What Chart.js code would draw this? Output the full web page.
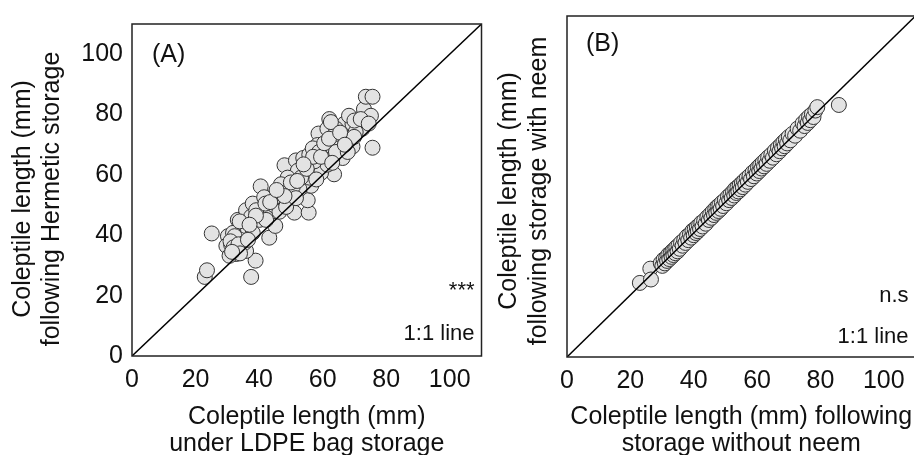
<!DOCTYPE html>
<html><head><meta charset="utf-8">
<script src="https://cdn.jsdelivr.net/npm/chart.js@4.4.1/dist/chart.umd.min.js"></script>
<style>
html,body{margin:0;padding:0;width:914px;height:455px;overflow:hidden;background:#fff;}
#c1{position:absolute;left:0;top:0;}
#c2{position:absolute;left:490px;top:0;}
</style></head><body>
<canvas id="c1" width="490" height="455"></canvas>
<canvas id="c2" width="434" height="455"></canvas>
<script>
// ---- data ----
const leftX = [22.9,23.6,25.1,37.5,38.9,35.9,32.8,30.7,31.8,30.2,34.9,33.3,35.9,40.1,43.2,45.1,40.1,42.2,44.8,40.5,
  45.4,48.5,48.0,51.1,55.6,55.3,53.7,56.4,54.4,51.6,53.9,63.6,58.7,62.1,61.5,61.0,63.1,67.3,66.8,69.4,
  69.4,71.5,73.0,73.6,75.7,75.2,72.5,75.7,68.3,55.8,57.9,60.0,58.4,56.9,50.6,49.5,47.4,38.0,37.5,36.5,
  31.8,29.7,33.9,52.7,52.2,56.3,60.5,64.7,65.2,66.3,63.1,64.2,62.6,70.4,49.0,46.9,44.3,41.6,42.2,46.4,
  48.5,39.1,33.9,38.0,32.3,30.7,33.3,35.4,59.5,61.5,57.4,55.8,53.2,50.6,51.6,58.9,64.2,67.9,69.9,31.2,
  31.0,32.0,33.5,34.0,31.5,36.5,42.0,43.5,47.0,50.0,52.0,55.0,57.0,59.5,60.5,62.0,65.5,67.0,70.0,72.0,
  74.5,54.0,48.0,45.5,39.0,37.0,63.0,58.0];
const leftY = [26.2,28.4,40.6,26.2,31.6,34.8,33.8,35.4,37.5,39.7,40.2,45.1,48.3,49.9,39.2,43.1,45.1,47.8,49.9,56.2,
  54.3,56.1,63.2,47.5,47.5,51.6,57.0,56.4,60.7,64.8,65.6,60.2,73.7,78.5,75.3,68.3,69.4,72.6,76.9,76.9,
  69.4,78.5,81.8,85.9,85.9,79.6,75.3,69.0,79.6,66.7,61.8,64.5,69.9,68.8,59.1,52.6,51.6,50.5,46.2,41.9,
  40.8,36.5,38.6,55.3,61.4,62.4,67.2,72.2,68.8,65.6,65.6,75.3,77.5,74.2,59.1,56.9,52.0,52.6,45.1,47.8,
  49.4,48.3,44.6,40.8,39.7,33.2,35.9,37.5,60.7,63.4,64.5,59.1,59.1,56.1,52.3,67.6,67.6,67.6,72.6,36.9,
  38.0,36.0,37.0,34.0,34.5,38.5,50.5,51.0,54.0,57.5,58.0,62.0,66.0,66.0,70.5,72.0,74.0,70.0,78.0,78.5,
  77.0,63.5,53.0,55.0,46.5,43.5,64.0,58.5];

const rightX = [23.0,26.3,26.5,
  29.6,30.1,30.5,30.9,31.3,31.6,32.0,32.3,32.7,33.0,33.3,33.6,33.9,34.2,34.5,34.9,35.2,35.6,36.0,36.5,
  37.0,37.4,37.9,38.3,38.8,39.2,39.6,40.0,40.3,40.7,41.0,41.3,41.7,42.0,42.4,42.8,43.3,43.8,44.3,44.8,
  45.2,45.6,46.0,46.4,46.8,47.1,47.5,47.8,48.1,48.5,48.9,49.3,49.8,50.3,50.8,51.2,51.6,52.0,52.4,52.8,
  53.1,53.5,53.8,54.1,54.5,54.8,55.2,55.5,55.9,56.3,56.7,57.1,57.6,58.1,58.6,59.0,59.5,59.9,60.3,60.7,
  61.0,61.4,61.8,62.2,62.6,63.0,63.5,64.0,64.5,65.0,65.6,66.1,66.6,67.1,67.5,67.9,68.3,68.7,69.1,69.5,
  70.0,70.5,71.2,72.0,72.8,73.6,74.4,75.0,75.5,76.0,76.4,76.8,77.3,77.8,78.4,79.0,85.8];
const rightY = [23.9,28.5,25.0,
  30.3,29.4,31.4,30.2,32.0,31.0,33.0,31.6,33.5,32.3,34.2,32.9,34.7,33.5,35.4,34.1,36.0,34.9,36.9,35.9,
  37.8,36.8,38.9,37.7,39.6,38.5,40.7,39.3,41.2,40.0,41.9,40.6,42.5,41.3,43.3,42.1,44.0,43.0,45.1,44.2,
  46.0,44.9,46.9,45.8,47.8,46.5,48.5,47.1,49.0,47.8,49.8,48.7,50.6,49.6,51.7,50.6,52.4,51.3,53.3,52.1,
  54.2,52.9,54.7,53.4,55.4,54.1,56.1,54.8,56.8,55.6,57.6,56.5,58.4,57.4,59.5,58.3,60.3,59.2,61.2,60.0,
  61.9,60.8,62.7,61.5,63.5,62.3,64.4,63.3,65.3,64.3,66.5,65.4,67.5,66.4,68.4,67.3,69.3,68.0,70.1,68.9,
  71.0,69.9,72.0,71.4,73.7,73.0,75.4,74.5,76.6,75.5,77.5,76.4,78.3,77.4,79.5,80.6,81.3];

const lineX = [0, 110];
const lineY = [0, 110];
const axisMin = 0, axisMax = 110;
const tickValues = [0, 20, 40, 60, 80, 100];
const panelLabels = ['(A)', '(B)'];
const sigLabels = ['***', 'n.s'];
const lineLabel = '1:1 line';
const xTitles = [['Coleptile length (mm)', 'under LDPE bag storage'],
                 ['Coleptile length (mm) following', 'storage without neem']];
const yTitles = [['Coleptile length (mm)', 'following Hermetic storage'],
                 ['Coleptile length (mm)', 'following storage with neem']];

const FONT = "'Liberation Sans', Arial, Helvetica, sans-serif";
const TXT = '#111';

function pts(xs, ys){ return xs.map((x,i)=>({x:x, y:ys[i]})); }

function makeChart(id, idx, xs, ys, cfg){
  const decor = {
    id: 'decor'+idx,
    afterDraw(chart){
      const ctx = chart.ctx, a = chart.chartArea;
      ctx.save();
      ctx.strokeStyle = '#222'; ctx.lineWidth = 1.5;
      ctx.strokeRect(a.left, a.top, a.right-a.left, a.bottom-a.top);
      ctx.fillStyle = TXT;
      ctx.font = '25px ' + FONT;
      ctx.textAlign = 'left'; ctx.textBaseline = 'middle';
      ctx.fillText(panelLabels[idx], a.left + cfg.labDx, a.top + cfg.labDy);
      ctx.font = '22px ' + FONT;
      ctx.textAlign = 'right'; ctx.textBaseline = 'alphabetic';
      ctx.fillText(sigLabels[idx], a.right - 7, a.bottom - cfg.sigDy);
      ctx.fillText(lineLabel, a.right - 7, a.bottom - cfg.lineDy);
      ctx.font = '25px ' + FONT;
      ctx.textAlign = 'center'; ctx.textBaseline = 'middle';
      yTitles[idx].forEach((t,k)=>{
        ctx.save();
        ctx.translate(cfg.yTitleX[k], cfg.yTitleY);
        ctx.rotate(-Math.PI/2);
        ctx.fillText(t, 0, 0);
        ctx.restore();
      });
      ctx.restore();
    }
  };
  return new Chart(document.getElementById(id), {
    type: 'scatter',
    data: { datasets: [
      { type:'line', data: pts(lineX, lineY), borderColor:'#000', borderWidth:1.5, pointRadius:0, fill:false, order:0 },
      { data: pts(xs, ys), backgroundColor:'#e3e3e3', borderColor:'#333', borderWidth:1, pointRadius:7.5, order:1 }
    ]},
    options: {
      responsive:false, animation:false, devicePixelRatio:1,
      layout:{ padding:{ top:cfg.padTop, right:cfg.padRight, left:0, bottom:0 } },
      plugins:{ legend:{display:false}, tooltip:{enabled:false} },
      scales:{
        x:{ type:'linear', min:axisMin, max:axisMax,
            grid:{display:false, drawTicks:false}, border:{display:false},
            afterBuildTicks: s => { s.ticks = tickValues.map(v=>({value:v})); },
            afterFit: s => { s.height = cfg.xH; },
            ticks:{ color:TXT, font:{family:FONT, size:25}, padding:9, maxRotation:0, autoSkip:false },
            title:{ display:true, text:xTitles[idx], color:TXT, font:{family:FONT, size:25, lineHeight:1.1}, padding:{top:0, bottom:-3} } },
        y:{ type:'linear', min:axisMin, max:axisMax,
            grid:{display:false, drawTicks:false}, border:{display:false},
            afterBuildTicks: s => { s.ticks = tickValues.map(v=>({value:v})); },
            afterFit: s => { s.width = cfg.yW; },
            ticks:{ display:cfg.yTicks, color:TXT, font:{family:FONT, size:25}, padding:9 } }
      }
    },
    plugins:[decor]
  });
}

makeChart('c1', 0, leftX, leftY, { padTop:15, padRight:7, xH:99, yW:132, yTicks:true,
  labDx:20, labDy:31, sigDy:59, lineDy:16, yTitleX:[23,52], yTitleY:199 });
makeChart('c2', 1, rightX, rightY, { padTop:16, padRight:7, xH:98, yW:77, yTicks:false,
  labDx:19, labDy:28, sigDy:55, lineDy:14, yTitleX:[19,49], yTitleY:191 });
</script>
</body></html>
